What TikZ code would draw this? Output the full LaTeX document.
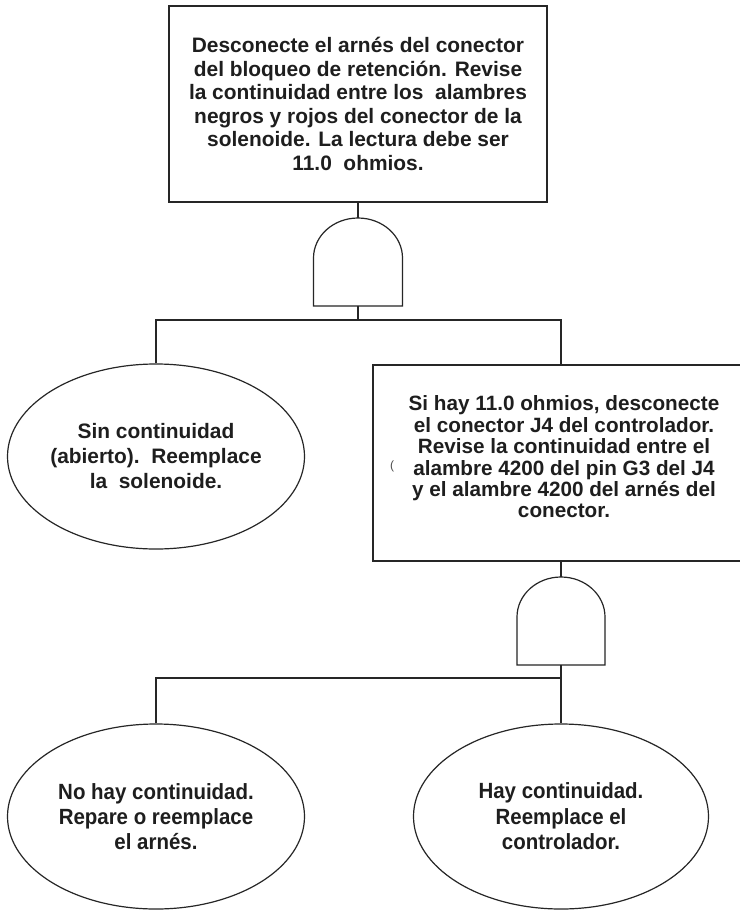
\documentclass[tikz,border=0pt]{standalone}
\usepackage{fontspec}
\setmainfont{Liberation Sans}
\newfontfamily\condensed{Liberation Sans}[FakeStretch=0.93]
\usetikzlibrary{shapes.geometric}
\definecolor{ink}{HTML}{1E1E1E}
\tikzset{
  frame/.style={draw=black!85, line width=1.2pt},
  wire/.style={draw=black!85, line width=1.1pt},
  txt/.style={text=ink, align=center},
  stepbox/.style={frame, txt, rectangle, inner sep=0pt},
  leaf/.style={frame, txt, ellipse, inner xsep=-15pt, inner ysep=0pt},
  speck/.style={text=black!70, font=\fontsize{12}{12}\selectfont, inner sep=0pt},
}
\begin{document}
\begin{tikzpicture}[x=1pt,y=-1pt]
\useasboundingbox (0,0) rectangle (739,910);
\fill[white] (0,0) rectangle (739,910);

% top box
\node[stepbox, minimum width=378pt, minimum height=196pt,
      font=\bfseries\fontsize{20.9}{23.5}\selectfont] (top) at (358,104)
  {Desconecte el arnés del conector\\
   del bloqueo de retención. Revise\\
   la continuidad entre los\ \ alambres\\
   negros y rojos del conector de la\\
   solenoide. La lectura debe ser\\
   11.0\ \ ohmios.};

% gate 1
\draw[frame] (313.5,306) -- (313.5,258)
  arc[start angle=180, end angle=0, x radius=44.5pt, y radius=40pt]
  -- (402.5,306) -- cycle;
\coordinate (g1t) at (358,218);
\coordinate (g1b) at (358,306);
\coordinate (j1) at (358,320);

% left ellipse
\node[leaf, minimum width=297pt, minimum height=185pt,
      font=\bfseries\fontsize{20.9}{25}\selectfont] (e1) at (156,456.5)
  {Sin continuidad\\ (abierto).\ \ Reemplace\\ la\ \ solenoide.};

% middle box (runs past the right edge)
\node[stepbox, minimum width=376pt, minimum height=196pt] (mid) at (561,463) {};
\node[txt, inner sep=0pt, font=\bfseries\fontsize{20.7}{21.4}\selectfont] (midtext) at (564,457)
  {Si hay 11.0 ohmios, desconecte\\
   el conector J4 del controlador.\\
   Revise la continuidad entre el\\
   alambre 4200 del pin G3 del J4\\
   y el alambre 4200 del arnés del\\
   conector.};
\node[speck] (mark) at (392,466) {(};

% gate 2
\draw[frame] (517,665) -- (517,617)
  arc[start angle=180, end angle=0, x radius=44pt, y radius=40pt]
  -- (605,665) -- cycle;
\coordinate (g2t) at (561,577);
\coordinate (g2b) at (561,665);
\coordinate (j2) at (561,678);

% bottom ellipses
\node[leaf, minimum width=297pt, minimum height=185pt,
      font=\condensed\bfseries\fontsize{22}{25}\selectfont] (e3) at (156,816.5)
  {No hay continuidad.\\ Repare o reemplace\\ el arnés.};
\node[leaf, minimum width=295pt, minimum height=185pt,
      font=\condensed\bfseries\fontsize{22}{25.5}\selectfont] (e4) at (561,816.5)
  {Hay continuidad.\\ Reemplace el\\ controlador.};

% connectors
\draw[wire] (top.south) -- (g1t);
\draw[wire] (g1b) -- (j1);
\draw[wire] (e1.north) |- (j1) -| (mid.north);
\draw[wire] (mid.south) -- (g2t);
\draw[wire] (g2b) -- (j2);
\draw[wire] (e3.north) |- (j2) -- (e4.north);
\end{tikzpicture}
\end{document}
